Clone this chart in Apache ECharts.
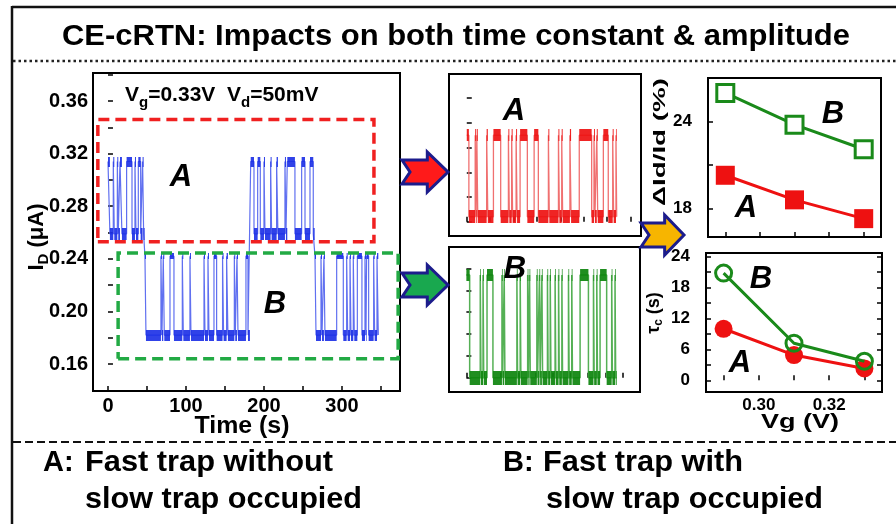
<!DOCTYPE html>
<html><head><meta charset="utf-8">
<script src="https://cdn.jsdelivr.net/npm/echarts@6/dist/echarts.min.js"></script>
<style>html,body{margin:0;padding:0;background:#fff}#c{width:896px;height:524px}</style>
</head><body><div id="c"></div>
<script>
// ---------------- data ----------------
// main RTN trace (time in s, current in uA)
const mainXLabels = [0, 100, 200, 300];
const mainXTicks = [0, 50, 100, 150, 200, 250, 300, 350];
const mainYLabels = [0.16, 0.20, 0.24, 0.28, 0.32, 0.36];
const mainYTicks = [0.16, 0.18, 0.20, 0.22, 0.24, 0.26, 0.28, 0.30, 0.32, 0.34, 0.36, 0.38];
const levelsA = [0.259, 0.314];
const levelsB = [0.182, 0.242];
const a1Span = [0, 47];
const a1High = [[0,2.5],[6.8,8.1],[12,13.2],[15.4,17.9],[23.9,30.8],[34.6,35.9],[38.9,41.9],[44.4,45.7]];
const b1Span = [47.4, 182];
const b1High = [[47.4,48.7],[67.9,69.2],[70.9,72.2],[79.5,84.6],[95.3,96.6],[105.1,106.4],[123.1,124.4],[128.2,129.5],[135.9,139.3],[146.9,148.2],[152.1,153.8],[162,163.2],[165.4,166.7],[176.9,179.5]];
const a2Span = [183, 265];
const a2High = [[183,187.2],[191.9,195.3],[200,201.3],[208.5,209.8],[216.2,217.9],[226.9,228.2],[229.9,239.7],[248.3,252.6],[259,263.2]];
const b2Span = [265.4, 347];
const b2High = [[265.4,266.7],[273.1,274.4],[276.9,278.2],[293.2,301.7],[306,307.3],[310.3,311.5],[314.5,315.8],[319.7,325.6],[329.5,330.8],[331.6,334.2],[340.6,341.9],[344.9,346.6]];
const boxA = [[-13, 0.253], [341, 0.346]];
const boxB = [[13, 0.164], [372, 0.2445]];
// zoomed traces (arbitrary units)
const redSpan = [0, 6.41];
const redLevels = [0.2, 3.5];
const redHigh = [[0,0.09],[0.36,0.40],[0.43,0.47],[0.85,0.90],[1.14,1.45],[1.78,1.82],[1.92,1.96],[2.11,2.15],[2.28,2.59],[2.88,3.06],[3.49,3.53],[3.92,3.96],[4.06,4.10],[4.41,4.46],[4.81,5.34],[5.44,5.48],[5.56,5.60],[5.84,6.05],[6.24,6.28],[6.38,6.41]];
const redXTicks = [0,1,2,3,4,5,6,7];
const redYTicks = [0,1,2,3,4,5];
const greenSpan = [0, 8.66];
const greenLevels = [0.0, 4.7];
const greenHigh = [[0,0.19],[0.80,0.84],[0.96,1.0],[1.19,1.53],[2.05,2.09],[2.18,2.22],[2.91,2.95],[3.1,3.14],[3.53,3.57],[3.64,3.68],[4.06,4.10],[4.21,4.25],[4.35,4.39],[4.67,4.71],[4.83,4.87],[5.11,5.15],[5.31,5.35],[5.5,5.54],[5.88,5.92],[6.07,6.11],[6.55,7.03],[7.32,7.36],[7.51,7.55],[7.7,8.08],[8.37,8.41],[8.56,8.60]];
const greenXTicks = [0,1,2,3,4,5,6,7,8,9];
const greenYTicks = [0,1,2,3,4,5];
// right panels
const vg = [0.29, 0.31, 0.33];
const ampA = [20.3, 18.6, 17.3];
const ampB = [26.0, 23.8, 22.1];
const tauA = [10.0, 4.9, 2.3];
const tauB = [20.8, 7.2, 3.7];
const vgTicks = [0.29, 0.30, 0.31, 0.32, 0.33];
const vgLabels = [0.30, 0.32];
const ampTicks = [18, 21, 24];
const ampLabels = [18, 24];
const tauTicks = [0, 3, 6, 9, 12, 15, 18, 21, 24];
const tauLabels = [0, 6, 12, 18, 24];

// ---------------- helpers ----------------
const FF = '"Liberation Sans", Arial, sans-serif';
function trace(span, high, lv) {
  const lo = lv[0], hi = lv[1]; const pts = []; let t = span[0];
  for (const [s, e] of high) {
    if (s > t + 1e-9) pts.push([t, lo], [s, lo]);
    pts.push([s, hi], [e, hi]); t = e;
  }
  pts.push([t, lo], [span[1], lo]);
  return pts;
}
function blobs(span, high, lv, wl, wh) {
  const lo = lv[0], hi = lv[1]; const items = []; let t = span[0];
  for (const [s, e] of high) {
    if (s > t + 1e-9) items.push({coords: [[t, lo], [s, lo]], lineStyle: {width: wl}});
    items.push({coords: [[s, hi], [e, hi]], lineStyle: {width: wh}}); t = e;
  }
  items.push({coords: [[t, lo], [span[1], lo]], lineStyle: {width: wl}});
  return items;
}
function rectPath(b) {
  const [[x0, y0], [x1, y1]] = b;
  return [[x0, y0], [x1, y0], [x1, y1], [x0, y1], [x0, y0]];
}
const mctx = document.createElement('canvas').getContext('2d');
function fitScale(text, font, w) { mctx.font = font; return w / mctx.measureText(text).width; }
function txt(text, x, y, size, opts) {
  opts = opts || {};
  const font = (opts.italic ? 'italic ' : '') + 'bold ' + size + 'px ' + FF;
  const sc = opts.width ? fitScale(text, font, opts.width) : 1;
  const align = opts.align || 'left';
  return {type: 'text', x: x, y: y, rotation: opts.rot || 0, scaleX: sc, z: 50,
    style: {text: text, font: font, fill: opts.color || '#000',
      align: align, textAlign: align, verticalAlign: 'middle', textVerticalAlign: 'middle'}};
}
function arrow(x0, x1, cy, fill) {
  const hh = 20, sh = 12, hx = x0 + (x1 - x0) * 0.55, notch = 8;
  return {type: 'polygon', z: 40, shape: {points: [[x0, cy - sh], [hx, cy - sh], [hx, cy - hh], [x1, cy], [hx, cy + hh], [hx, cy + sh], [x0, cy + sh], [x0 + notch, cy]]},
    style: {fill: fill, stroke: '#1c1c8c', lineWidth: 3, lineJoin: 'miter'}};
}
const tickStyle = {color: '#000', width: 1.5};
function xAx(gi, min, max, ticks, labels, size, fmt) {
  return {type: 'value', gridIndex: gi, min: min, max: max, splitLine: {show: false}, axisLine: {show: false},
    axisTick: {show: true, inside: true, length: 5, customValues: ticks, lineStyle: tickStyle},
    axisLabel: labels ? {customValues: labels, color: '#000', fontSize: size, fontWeight: 'bold', fontFamily: FF, margin: 5, formatter: fmt} : {show: false}};
}
function yAx(gi, min, max, ticks, labels, size, fmt, margin, pos) {
  return {type: 'value', gridIndex: gi, min: min, max: max, position: pos || 'left', splitLine: {show: false}, axisLine: {show: false},
    axisTick: {show: true, inside: true, length: 5, customValues: ticks, lineStyle: tickStyle},
    axisLabel: labels ? {customValues: labels, color: '#000', fontSize: size, fontWeight: 'bold', fontFamily: FF, margin: margin, formatter: fmt} : {show: false}};
}

const mainPts = [].concat(trace(a1Span, a1High, levelsA), trace(b1Span, b1High, levelsB), trace(a2Span, a2High, levelsA), trace(b2Span, b2High, levelsB));
const mainBlobs = [].concat(blobs(a1Span, a1High, levelsA, 12, 10), blobs(b1Span, b1High, levelsB, 11, 6), blobs(a2Span, a2High, levelsA, 12, 10), blobs(b2Span, b2High, levelsB, 11, 6));

const chart = echarts.init(document.getElementById('c'), null, {renderer: 'canvas'});
const gridBase = {show: true, borderColor: '#000', borderWidth: 2, containLabel: false};
const option = {
  animation: false,
  backgroundColor: '#fff',
  grid: [
    Object.assign({left: 93, top: 73, width: 307, height: 318}, gridBase),
    Object.assign({left: 449, top: 74, width: 192, height: 162}, gridBase),
    Object.assign({left: 449, top: 247, width: 191, height: 145}, gridBase),
    Object.assign({left: 708, top: 78, width: 173, height: 159}, gridBase),
    Object.assign({left: 706, top: 253, width: 176, height: 139}, gridBase)
  ],
  xAxis: [
    xAx(0, -19.2, 374.4, mainXTicks, mainXLabels, 20),
    xAx(1, -0.76, 7.45, redXTicks, null),
    xAx(2, -1.0, 10.0, greenXTicks, null),
    xAx(3, 0.285, 0.335, vgTicks, null),
    xAx(4, 0.285, 0.335, vgTicks, vgLabels, 17, v => v.toFixed(2))
  ],
  yAxis: [
    yAx(0, 0.1395, 0.3813, mainYTicks, mainYLabels, 20, v => v.toFixed(2), 5),
    yAx(1, -0.58, 5.98, redYTicks, null),
    yAx(2, -0.65, 5.98, greenYTicks, null),
    yAx(3, 16.03, 27.03, ampTicks, ampLabels, 17, null, 16),
    yAx(4, -2.27, 24.7, tauTicks, tauLabels, 17, null, 16),
    yAx(4, -2.27, 24.7, tauTicks, null, 0, null, 0, 'right')
  ],
  series: [
    {type: 'line', xAxisIndex: 0, yAxisIndex: 0, data: mainPts, showSymbol: false, silent: true,
      lineStyle: {color: '#6070f0', width: 1.2}, z: 3},
    {type: 'lines', coordinateSystem: 'cartesian2d', xAxisIndex: 0, yAxisIndex: 0, data: mainBlobs, silent: true,
      lineStyle: {color: '#1a2ee6', opacity: 0.9}, z: 4},
    {type: 'lines', coordinateSystem: 'cartesian2d', xAxisIndex: 0, yAxisIndex: 0, polyline: true, silent: true, z: 6,
      data: [{coords: rectPath(boxA), lineStyle: {color: '#f02020'}}, {coords: rectPath(boxB), lineStyle: {color: '#22aa44'}}],
      lineStyle: {width: 3.5, type: [11, 6], opacity: 1}},
    {type: 'line', xAxisIndex: 1, yAxisIndex: 1, data: trace(redSpan, redHigh, redLevels), showSymbol: false, silent: true,
      lineStyle: {color: '#f07070', width: 1.3}, z: 3},
    {type: 'lines', coordinateSystem: 'cartesian2d', xAxisIndex: 1, yAxisIndex: 1, data: blobs(redSpan, redHigh, redLevels, 13, 12), silent: true,
      lineStyle: {color: '#ee1111', opacity: 0.92}, z: 4},
    {type: 'line', xAxisIndex: 2, yAxisIndex: 2, data: trace(greenSpan, greenHigh, greenLevels), showSymbol: false, silent: true,
      lineStyle: {color: '#55b055', width: 1.5}, z: 3},
    {type: 'lines', coordinateSystem: 'cartesian2d', xAxisIndex: 2, yAxisIndex: 2, data: blobs(greenSpan, greenHigh, greenLevels, 14, 12), silent: true,
      lineStyle: {color: '#0d840d', opacity: 0.92}, z: 4},
    {type: 'line', xAxisIndex: 3, yAxisIndex: 3, data: vg.map((v, i) => [v, ampA[i]]), symbol: 'rect', symbolSize: 19,
      itemStyle: {color: '#ee1111'}, lineStyle: {color: '#ee1111', width: 3}, z: 5},
    {type: 'line', xAxisIndex: 3, yAxisIndex: 3, data: vg.map((v, i) => [v, ampB[i]]), symbol: 'rect', symbolSize: 17,
      itemStyle: {color: '#fff', borderColor: '#1a8a1a', borderWidth: 3}, lineStyle: {color: '#1a8a1a', width: 3}, z: 5},
    {type: 'line', xAxisIndex: 4, yAxisIndex: 4, data: vg.map((v, i) => [v, tauA[i]]), symbol: 'circle', symbolSize: 18,
      itemStyle: {color: '#ee1111'}, lineStyle: {color: '#ee1111', width: 3}, z: 5},
    {type: 'line', xAxisIndex: 4, yAxisIndex: 4, data: vg.map((v, i) => [v, tauB[i]]), symbol: 'circle', symbolSize: 16,
      itemStyle: {color: 'rgba(255,255,255,0)', borderColor: '#1a8a1a', borderWidth: 3}, lineStyle: {color: '#1a8a1a', width: 3}, z: 6}
  ],
  graphic: {elements: [
    {type: 'line', shape: {x1: 12, y1: 7, x2: 896, y2: 7}, style: {stroke: '#111', lineWidth: 2.5}},
    {type: 'line', shape: {x1: 12, y1: 6, x2: 12, y2: 524}, style: {stroke: '#111', lineWidth: 2.5}},
    {type: 'line', shape: {x1: 13, y1: 61, x2: 896, y2: 61}, style: {stroke: '#222', lineWidth: 2.5, lineDash: [2.5, 3]}},
    {type: 'line', shape: {x1: 13, y1: 442, x2: 896, y2: 442}, style: {stroke: '#111', lineWidth: 2, lineDash: [8, 4]}},
    txt('CE-cRTN: Impacts on both time constant & amplitude', 456, 37, 29, {align: 'center', width: 788}),
    txt('A:', 43, 463, 29),
    txt('Fast trap without', 85, 463, 29, {width: 248}),
    txt('slow trap occupied', 85, 500, 29, {width: 277}),
    txt('B:', 503, 463, 29),
    txt('Fast trap with', 543, 463, 29, {width: 200}),
    txt('slow trap occupied', 546, 500, 29, {width: 277}),
    arrow(402, 448, 172, '#ff1a1a'),
    arrow(402, 448, 285, '#19a84f'),
    arrow(641, 684, 235, '#f7b500'),
    txt('Time (s)', 242, 427, 23, {align: 'center', width: 95}),
    txt('Vg (V)', 800, 422, 20, {align: 'center', width: 78}),
    {type: 'text', x: 37, y: 237, rotation: Math.PI / 2, z: 50,
      style: {text: '{n|I}{s|D}{n| (μA)}', align: 'center', textAlign: 'center', verticalAlign: 'middle', textVerticalAlign: 'middle',
        rich: {n: {fontSize: 22, fontWeight: 'bold', fontFamily: FF, fill: '#000', color: '#000', lineHeight: 28, verticalAlign: 'middle'},
               s: {fontSize: 15, fontWeight: 'bold', fontFamily: FF, fill: '#000', color: '#000', lineHeight: 15, verticalAlign: 'bottom'}}}},
    {type: 'text', x: 125, y: 95, z: 50,
      style: {text: '{n|V}{s|g}{n|=0.33V  V}{s|d}{n|=50mV}', align: 'left', textAlign: 'left', verticalAlign: 'middle', textVerticalAlign: 'middle',
        rich: {n: {fontSize: 21, fontWeight: 'bold', fontFamily: FF, fill: '#000', color: '#000', lineHeight: 30, verticalAlign: 'middle'},
               s: {fontSize: 15, fontWeight: 'bold', fontFamily: FF, fill: '#000', color: '#000', lineHeight: 15, verticalAlign: 'bottom'}}}},
    txt('ΔId/Id (%)', 660, 142, 17, {rot: Math.PI / 2, align: 'center', width: 128}),
    {type: 'text', x: 654, y: 313, rotation: Math.PI / 2, z: 50,
      style: {text: '{n|τ}{s|c}{n| (s)}', align: 'center', textAlign: 'center', verticalAlign: 'middle', textVerticalAlign: 'middle',
        rich: {n: {fontSize: 18, fontWeight: 'bold', fontFamily: FF, fill: '#000', color: '#000', lineHeight: 22, verticalAlign: 'middle'},
               s: {fontSize: 12, fontWeight: 'bold', fontFamily: FF, fill: '#000', color: '#000', lineHeight: 12, verticalAlign: 'bottom'}}}},
    txt('A', 181, 177, 31, {italic: true, align: 'center'}),
    txt('B', 275, 304, 31, {italic: true, align: 'center'}),
    txt('A', 514, 111, 31, {italic: true, align: 'center'}),
    txt('B', 515, 269, 31, {italic: true, align: 'center'}),
    txt('B', 833, 114, 31, {italic: true, align: 'center'}),
    txt('A', 746, 208, 31, {italic: true, align: 'center'}),
    txt('B', 761, 279, 31, {italic: true, align: 'center'}),
    txt('A', 740, 363, 31, {italic: true, align: 'center'})
  ]}
};
chart.setOption(option);
</script>
</body></html>
